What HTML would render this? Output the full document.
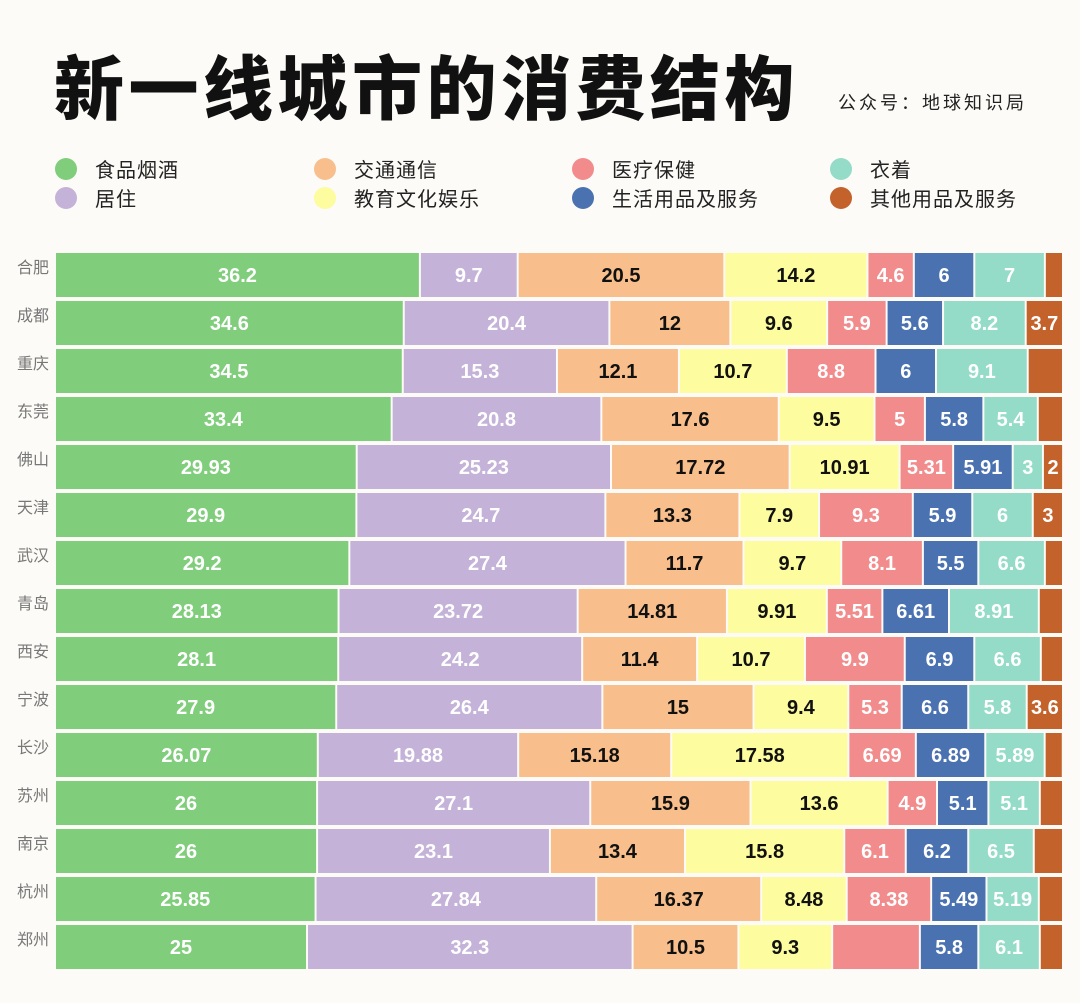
<!DOCTYPE html>
<html><head><meta charset="utf-8">
<style>
body{margin:0;width:1080px;height:1003px;background:#fcfbf7;font-family:"Liberation Sans","Noto Sans CJK SC",sans-serif;overflow:hidden;position:relative}
#title{position:absolute;left:54px;top:34px;font-size:70px;font-weight:900;color:#111;letter-spacing:4.5px;font-family:"Noto Sans CJK SC",sans-serif;white-space:nowrap}
#sub{position:absolute;left:838px;top:89px;font-size:18px;color:#222;letter-spacing:3px}
.leg{position:absolute;font-size:20px;color:#222;display:flex;align-items:center;letter-spacing:1px}
.leg i{display:inline-block;width:22px;height:22px;border-radius:50%;margin-right:18px}
</style></head><body>
<div id="title">新一线城市的消费结构</div>
<div id="sub">公众号：地球知识局</div>
<div id="legend"></div>
<svg id="chart" width="1080" height="1003" style="position:absolute;left:0;top:0"></svg>
<script>
const cities=["合肥","成都","重庆","东莞","佛山","天津","武汉","青岛","西安","宁波","长沙","苏州","南京","杭州","郑州"];
const seriesNames=["食品烟酒","居住","交通通信","教育文化娱乐","医疗保健","生活用品及服务","衣着","其他用品及服务"];
const food=[36.2,34.6,34.5,33.4,29.93,29.9,29.2,28.13,28.1,27.9,26.07,26,26,25.85,25];
const housing=[9.7,20.4,15.3,20.8,25.23,24.7,27.4,23.72,24.2,26.4,19.88,27.1,23.1,27.84,32.3];
const transport=[20.5,12,12.1,17.6,17.72,13.3,11.7,14.81,11.4,15,15.18,15.9,13.4,16.37,10.5];
const education=[14.2,9.6,10.7,9.5,10.91,7.9,9.7,9.91,10.7,9.4,17.58,13.6,15.8,8.48,9.3];
const medical=[4.6,5.9,8.8,5,5.31,9.3,8.1,5.51,9.9,5.3,6.69,4.9,6.1,8.38,8.7];
const goods=[6,5.6,6,5.8,5.91,5.9,5.5,6.61,6.9,6.6,6.89,5.1,6.2,5.49,5.8];
const clothing=[7,8.2,9.1,5.4,3,6,6.6,8.91,6.6,5.8,5.89,5.1,6.5,5.19,6.1];
const other=[1.8,3.7,3.5,2.5,2,3,1.8,2.4,2.2,3.6,1.8,2.3,2.9,2.4,2.3];
const otherLabeled=[false,true,false,false,true,true,false,false,false,true,false,false,false,false,false];
const mediLabeled=[true,true,true,true,true,true,true,true,true,true,true,true,true,true,false];
const series=[food,housing,transport,education,medical,goods,clothing,other];
const colors=["#80cd7c","#c4b2d9","#f8bf8c","#fdfc9f","#f28c8c","#4a72b1","#94dcc7","#c4622b"];
const textColors=["#fff","#fff","#111","#111","#fff","#fff","#fff","#fff"];
const legendX=[66,325,583,841],legendY=[168,197];
const x0=55,unit=10.08,y0=253,pitch=48,bh=44;
const xs=v=>v*unit, ys=i=>y0+i*pitch;
const leg=document.getElementById('legend');
const legOrder=[0,2,4,6,1,3,5,7];
legOrder.forEach((s,k)=>{
  const d=document.createElement('div');d.className='leg';
  
  
  d.style.left=(legendX[k%4]-11)+'px';d.style.top=(legendY[Math.floor(k/4)]-14)+'px';
  d.innerHTML='<i style="background:'+colors[s]+'"></i>'+seriesNames[s];
  leg.appendChild(d);
});
const svg=document.getElementById('chart');const NS='http://www.w3.org/2000/svg';
cities.forEach((c,i)=>{
  const t=document.createElementNS(NS,'text');
  
  
  t.setAttribute('x',17);t.setAttribute('y',ys(i)+20);t.setAttribute('font-size','16');t.setAttribute('fill','#777');
  t.textContent=c;svg.appendChild(t);
  let acc=0;
  series.forEach((arr,s)=>{
    const v=arr[i];const x=x0+xs(acc);const w=xs(v);acc+=v;
    const r=document.createElementNS(NS,'rect');
    
    
    r.setAttribute('x',x+1);r.setAttribute('y',ys(i));r.setAttribute('width',Math.max(w-2,1));r.setAttribute('height',bh);r.setAttribute('fill',colors[s]);
    svg.appendChild(r);
    if((s===7&&!otherLabeled[i])||(s===4&&!mediLabeled[i]))return;
    const l=document.createElementNS(NS,'text');
    
    
    l.setAttribute('x',x+w/2);l.setAttribute('y',ys(i)+bh/2+7);l.setAttribute('text-anchor','middle');
    l.setAttribute('font-size','20');l.setAttribute('font-weight','bold');l.setAttribute('fill',textColors[s]);
    l.textContent=v;svg.appendChild(l);
  });
});
</script>
</body></html>
